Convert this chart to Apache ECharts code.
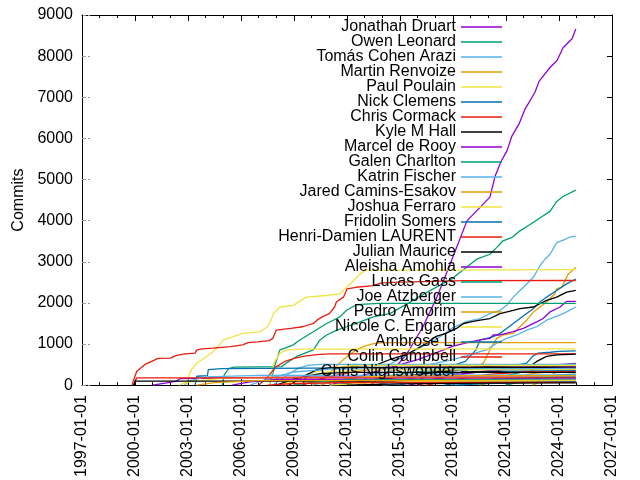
<!DOCTYPE html>
<html>
<head>
<meta charset="utf-8">
<script src="https://cdn.jsdelivr.net/npm/echarts@6/dist/echarts.min.js"></script>
<style>html,body{margin:0;padding:0;background:#fff}#c{width:640px;height:480px}</style>
</head>
<body>
<div id="c"></div>
<script>
// Tick labels
const xTickYears = [1997, 2000, 2003, 2006, 2009, 2012, 2015, 2018, 2021, 2024, 2027];
const yTicks = [0, 1000, 2000, 3000, 4000, 5000, 6000, 7000, 8000, 9000];

// Named contributors (legend order)
const authors = ['Jonathan Druart','Owen Leonard','Tomás Cohen Arazi','Martin Renvoize','Paul Poulain','Nick Clemens','Chris Cormack','Kyle M Hall','Marcel de Rooy','Galen Charlton','Katrin Fischer','Jared Camins-Esakov','Joshua Ferraro','Fridolin Somers','Henri-Damien LAURENT','Julian Maurice','Aleisha Amohia','Lucas Gass','Joe Atzberger','Pedro Amorim','Nicole C. Engard','Ambrose Li','Colin Campbell','Chris Nighswonder'];

// Cumulative commits: [year, commits]
const jonathanDruart = [[2013.3,0],[2013.8,150],[2014.2,280],[2014.65,380],[2015.4,770],[2016.3,1420],[2017.09,2141],[2017.83,2935],[2018.79,3994],[2020.09,4571],[2020.38,5077],[2020.72,5438],[2021.06,5702],[2021.34,6063],[2021.74,6352],[2022.08,6713],[2022.64,7122],[2022.87,7386],[2023.49,7723],[2023.89,7892],[2024.23,8204],[2024.74,8421],[2024.95,8662]];
const owenLeonard = [[2004.95,0],[2005.05,250],[2005.3,400],[2005.6,440],[2008.3,450],[2008.58,537],[2009.15,698],[2010.09,859],[2010.47,1099],[2010.85,1220],[2011.42,1340],[2011.98,1420],[2012.74,1540],[2013.49,1660],[2014.43,1740],[2015.5,2000],[2016.7,2300],[2017.92,2582],[2019.34,3063],[2020.09,3183],[2020.47,3344],[2020.83,3510],[2021.32,3585],[2021.79,3752],[2022.36,3905],[2022.92,4066],[2023.49,4226],[2023.87,4467],[2024.23,4588],[2024.95,4740]];
const tomasCohenArazi = [[2012.5,0],[2013.0,150],[2014.0,400],[2015.0,650],[2016.0,880],[2017.0,1100],[2018.0,1400],[2018.8,1550],[2019.53,1620],[2020.09,1740],[2020.66,1821],[2021.04,1941],[2021.41,2141],[2021.79,2300],[2022.17,2461],[2022.55,2622],[2022.92,2904],[2023.21,3063],[2023.49,3183],[2023.87,3465],[2024.34,3545],[2024.6,3600],[2024.95,3625]];
const martinRenvoize = [[2016.0,0],[2017.0,100],[2018.0,250],[2019.0,400],[2019.72,537],[2019.91,698],[2020.09,859],[2020.47,1138],[2020.85,1220],[2021.41,1259],[2021.79,1420],[2022.17,1580],[2022.55,1780],[2023.3,2021],[2023.77,2221],[2023.87,2342],[2024.15,2382],[2024.34,2542],[2024.53,2702],[2024.95,2863]];
const paulPoulain = [[2002.95,0],[2003.02,217],[2003.2,377],[2003.5,537],[2004.06,698],[2004.43,818],[2004.7,938],[2005.0,1099],[2005.56,1179],[2006.13,1259],[2007.08,1300],[2007.5,1420],[2007.7,1580],[2007.83,1740],[2008.2,1900],[2008.96,1940],[2009.7,2140],[2010.85,2180],[2011.6,2220],[2011.98,2380],[2012.36,2540],[2012.74,2700],[2013.02,2790],[2024.95,2807]];
const nickClemens = [[2015.0,0],[2016.0,120],[2017.0,280],[2017.8,450],[2018.7,577],[2019.3,859],[2019.53,1099],[2019.91,1138],[2020.28,1179],[2020.66,1259],[2021.04,1379],[2021.41,1499],[2021.79,1620],[2022.17,1740],[2022.55,1860],[2022.92,2021],[2023.3,2141],[2023.87,2302],[2024.43,2462],[2024.95,2582]];
const chrisCormack = [[1999.85,0],[1999.9,100],[2000.1,337],[2000.57,505],[2000.95,577],[2001.3,650],[2002.0,657],[2002.36,722],[2002.83,763],[2003.4,778],[2003.5,859],[2003.8,883],[2004.4,898],[2005.4,938],[2006.1,979],[2006.4,1035],[2006.96,1051],[2007.6,1083],[2007.8,1138],[2008.0,1340],[2008.8,1380],[2009.5,1420],[2010.1,1500],[2010.3,1580],[2010.6,1660],[2011.0,1740],[2011.3,1900],[2011.4,2020],[2011.8,2140],[2012.0,2340],[2012.5,2380],[2013.5,2420],[2013.9,2480],[2014.6,2500],[2018.6,2540],[2024.95,2545]];
const kyleMHall = [[2009.5,0],[2009.7,250],[2010.0,300],[2010.3,377],[2012.2,457],[2013.7,497],[2014.4,618],[2015.0,700],[2015.5,777],[2016.5,1018],[2017.0,1179],[2017.6,1259],[2018.2,1379],[2018.6,1499],[2019.0,1540],[2019.53,1580],[2020.09,1620],[2020.66,1740],[2021.41,1821],[2021.79,1860],[2022.55,1900],[2023.3,2061],[2023.87,2141],[2024.43,2262],[2024.95,2302]];
const marcelDeRooy = [[2011.0,0],[2012.0,120],[2013.0,250],[2014.0,380],[2015.0,500],[2016.0,620],[2017.0,780],[2018.0,950],[2019.0,1050],[2019.53,1099],[2020.09,1138],[2020.28,1220],[2020.66,1220],[2021.41,1299],[2021.98,1379],[2022.74,1540],[2023.1,1620],[2023.49,1780],[2024.06,1900],[2024.43,2037],[2024.95,2037]];
const galenCharlton = [[2007.6,0],[2007.75,200],[2007.9,457],[2008.2,859],[2008.49,898],[2008.96,979],[2009.33,1099],[2010.85,1499],[2011.6,1660],[2011.98,1821],[2012.55,1960],[2013.8,1989],[2024.95,1989]];
const katrinFischer = [[2010.0,0],[2011.0,80],[2012.0,150],[2013.0,220],[2014.0,300],[2015.0,380],[2016.0,450],[2017.0,530],[2018.0,620],[2018.8,720],[2019.53,818],[2019.91,859],[2020.47,1018],[2021.04,1138],[2021.61,1220],[2022.17,1340],[2022.74,1420],[2023.3,1580],[2024.24,1740],[2024.95,1900]];
const jaredCaminsEsakov = [[2010.0,0],[2010.5,100],[2011.0,300],[2011.5,500],[2012.0,700],[2012.5,850],[2013.0,950],[2013.5,1010],[2014.0,1035],[2024.95,1035]];
const joshuaFerraro = [[2007.6,0],[2007.75,300],[2007.85,530],[2008.2,777],[2008.58,859],[2009.5,875],[2024.95,882]];
const fridolinSomers = [[2011.0,0],[2012.0,50],[2014.0,150],[2016.0,250],[2018.0,350],[2021.5,480],[2022.17,537],[2022.5,700],[2022.8,777],[2023.5,800],[2024.0,820],[2024.95,834]];
const henriDamienLaurent = [[2007.0,0],[2007.5,200],[2008.0,450],[2008.5,580],[2009.0,650],[2009.5,700],[2010.3,740],[2011.0,762],[2024.95,762]];
const julianMaurice = [[2011.5,0],[2013.0,100],[2015.0,200],[2017.0,320],[2019.0,420],[2021.0,490],[2022.5,500],[2022.74,577],[2023.3,698],[2023.87,738],[2024.95,754]];
const aleishaAmohia = [[2016.0,0],[2017.0,150],[2018.0,250],[2019.0,300],[2020.0,350],[2021.0,400],[2022.0,430],[2023.0,460],[2024.0,500],[2024.95,530]];
const lucasGass = [[2018.5,0],[2019.5,80],[2020.5,180],[2021.5,280],[2022.5,360],[2023.5,430],[2024.95,520]];
const joeAtzberger = [[2007.8,0],[2008.3,150],[2008.8,300],[2009.3,420],[2009.8,480],[2010.5,505],[2024.95,505]];
const pedroAmorim = [[2022.5,0],[2023.0,100],[2023.5,230],[2024.0,350],[2024.5,430],[2024.95,495]];
const nicoleCEngard = [[2008.3,0],[2009.0,150],[2010.0,300],[2011.0,400],[2012.0,460],[2013.0,480],[2024.95,480]];
const ambroseLi = [[2003.4,0],[2003.5,217],[2004.1,230],[2004.15,377],[2004.9,400],[2005.0,440],[2024.95,450]];
const colinCampbell = [[2009.5,0],[2010.5,150],[2011.5,250],[2012.5,330],[2013.5,400],[2015.0,430],[2016.0,440],[2024.95,440]];
const chrisNighswonder = [[2008.7,0],[2009.5,200],[2010.3,380],[2011.0,420],[2012.0,430],[2024.95,430]];

// Further contributors drawn without a key entry
const other25 = [[2015.5,0],[2017,150],[2019,300],[2021,380],[2024.95,420]];
const other26 = [[2012.5,0],[2014,200],[2016,330],[2018,390],[2024.95,410]];
const other27 = [[2006.5,0],[2007.5,150],[2009,320],[2011,390],[2024.95,400]];
const other28 = [[2019.5,0],[2021,150],[2022.5,280],[2024,360],[2024.95,390]];
const other29 = [[2008.5,0],[2009.5,200],[2011,330],[2013,370],[2024.95,370]];
const other30 = [[2013.5,0],[2015,120],[2017,250],[2019,330],[2024.95,350]];
const other31 = [[2016.5,0],[2018,130],[2020,260],[2022,320],[2024.95,330]];
const other32 = [[2008.0,0],[2009,150],[2010.5,280],[2012,310],[2024.95,310]];
const other33 = [[2001.0,0],[2001.8,56],[2002.36,96],[2002.55,160],[2005,175],[2010,200],[2024.95,210]];
const other34 = [[2021.0,0],[2022,100],[2023,190],[2024,250],[2024.95,270]];
const other35 = [[2002.8,0],[2003.0,100],[2004,200],[2007,240],[2024.95,250]];
const other36 = [[2010.5,0],[2011.5,120],[2013,200],[2015,230],[2024.95,230]];
const other37 = [[2002.5,0],[2003,80],[2005,170],[2008,190],[2024.95,195]];
const other38 = [[2017.5,0],[2019,90],[2021,160],[2023,185],[2024.95,190]];
const other39 = [[1999.9,0],[2000.1,176],[2024.95,176]];
const other40 = [[1999.95,0],[2000.0,96],[2024.95,100]];
const other41 = [[2005.5,0],[2006.5,80],[2008,140],[2024.95,150]];
const other42 = [[2009.0,0],[2010,70],[2012,130],[2024.95,140]];
const other43 = [[2014.0,0],[2016,60],[2019,110],[2024.95,125]];
const other44 = [[2003.5,0],[2004.5,60],[2007,110],[2024.95,115]];
const other45 = [[2011.0,0],[2013,50],[2016,90],[2024.95,105]];
const other46 = [[2018.0,0],[2020,40],[2023,75],[2024.95,85]];
const other47 = [[2007.5,0],[2009,40],[2012,65],[2024.95,70]];
const other48 = [[2012.0,0],[2015,30],[2020,50],[2024.95,55]];

const namedData = [jonathanDruart, owenLeonard, tomasCohenArazi, martinRenvoize, paulPoulain, nickClemens, chrisCormack, kyleMHall, marcelDeRooy, galenCharlton, katrinFischer, jaredCaminsEsakov, joshuaFerraro, fridolinSomers, henriDamienLaurent, julianMaurice, aleishaAmohia, lucasGass, joeAtzberger, pedroAmorim, nicoleCEngard, ambroseLi, colinCampbell, chrisNighswonder];
const otherData = [other25, other26, other27, other28, other29, other30, other31, other32, other33, other34, other35, other36, other37, other38, other39, other40, other41, other42, other43, other44, other45, other46, other47, other48];

const palette = ['#9400d3','#009e73','#56b4e9','#e69f00','#f0e442','#0072b2','#e51e10','#000000'];
const FONT = 'Liberation Sans, Arial, sans-serif';

const allData = namedData.concat(otherData);
const series = allData.map((d, i) => ({
  type: 'line',
  name: i < authors.length ? authors[i] : ('other ' + (i + 1)),
  data: d,
  xAxisIndex: 0,
  yAxisIndex: 0,
  symbol: 'none',
  showSymbol: false,
  silent: true,
  animation: false,
  color: palette[i % 8],
  lineStyle: { width: 1.3, color: palette[i % 8] },
  itemStyle: { color: palette[i % 8] }
}));

const chart = echarts.init(document.getElementById('c'), null, { renderer: 'canvas' });
chart.setOption({
  animation: false,
  backgroundColor: '#ffffff',
  textStyle: { fontFamily: FONT },
  grid: { left: 82, right: 28, top: 15, bottom: 91, containLabel: false },
  legend: {
    data: authors,
    orient: 'vertical',
    right: 133,
    top: 14,
    padding: 5,
    align: 'right',
    itemWidth: 41,
    itemHeight: 1.5,
    itemGap: -1,
    icon: 'rect',
    selectedMode: false,
    textStyle: { fontSize: 16, color: '#000', fontFamily: FONT }
  },
  xAxis: [{
    type: 'value',
    min: xTickYears[0],
    max: xTickYears[xTickYears.length - 1],
    interval: 3,
    position: 'bottom',
    axisLine: { show: true, onZero: false, lineStyle: { color: '#000', width: 1 } },
    axisTick: { show: true, inside: true, length: 6, lineStyle: { color: '#000' } },
    minorTick: { show: true, splitNumber: 3, length: 3, lineStyle: { color: '#000' } },
    splitLine: { show: false },
    axisLabel: {
      rotate: 90, margin: 10, fontSize: 16, color: '#000', fontFamily: FONT,
      formatter: v => xTickYears.indexOf(v) >= 0 ? v + '-01-01' : ''
    }
  }, {
    type: 'value',
    min: xTickYears[0],
    max: xTickYears[xTickYears.length - 1],
    interval: 3,
    position: 'top',
    axisLine: { show: true, onZero: false, lineStyle: { color: '#000', width: 1 } },
    axisTick: { show: true, inside: true, length: 6, lineStyle: { color: '#000' } },
    minorTick: { show: true, splitNumber: 3, length: 3, lineStyle: { color: '#000' } },
    splitLine: { show: false },
    axisLabel: { show: false }
  }],
  yAxis: [{
    type: 'value',
    min: yTicks[0],
    max: yTicks[yTicks.length - 1],
    interval: 1000,
    name: 'Commits',
    nameLocation: 'middle',
    nameGap: 55,
    nameRotate: 90,
    nameTextStyle: { fontSize: 16, color: '#000', fontFamily: FONT },
    axisLine: { show: true, onZero: false, lineStyle: { color: '#000', width: 1 } },
    axisTick: { show: true, inside: true, length: 8, lineStyle: { color: '#999', type: 'dashed' } },
    splitLine: { show: false },
    axisLabel: { margin: 9, fontSize: 16, color: '#000', fontFamily: FONT, formatter: v => String(v) }
  }, {
    type: 'value',
    min: yTicks[0],
    max: yTicks[yTicks.length - 1],
    interval: 1000,
    position: 'right',
    axisLine: { show: true, onZero: false, lineStyle: { color: '#000', width: 1 } },
    axisTick: { show: true, inside: true, length: 5, lineStyle: { color: '#000' } },
    splitLine: { show: false },
    axisLabel: { show: false }
  }],
  series: series
});
</script>
</body>
</html>
